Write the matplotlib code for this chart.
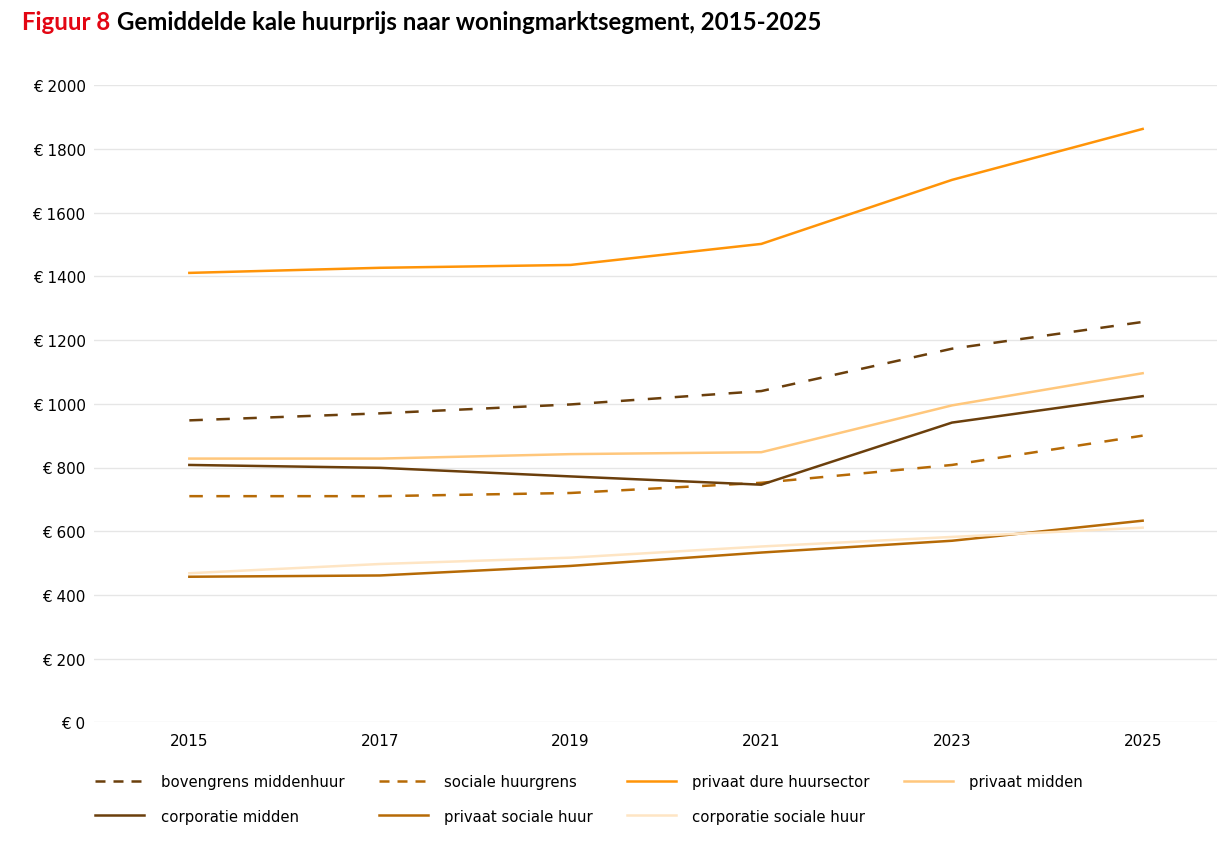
import matplotlib.pyplot as plt
from matplotlib.lines import Line2D

# data
years = [2015, 2017, 2019, 2021, 2023, 2025]

bovengrens_middenhuur = [948, 970, 998, 1040, 1173, 1257]
sociale_huurgrens = [710, 710, 720, 752, 808, 900]
privaat_dure_huursector = [1411, 1427, 1436, 1502, 1703, 1863]
privaat_midden = [828, 828, 842, 848, 995, 1096]
corporatie_midden = [808, 799, 772, 746, 941, 1024]
privaat_sociale_huur = [457, 461, 491, 533, 570, 633]
corporatie_sociale_huur = [468, 497, 517, 552, 582, 611]

y_ticks = [0, 200, 400, 600, 800, 1000, 1200, 1400, 1600, 1800, 2000]

DARK = '#6b3f0c'
MID = '#b66a06'
ORANGE = '#ff9408'
LIGHT = '#ffc77c'
PALE = '#fee5c4'

plt.rcParams['font.family'] = ['DejaVu Sans']

fig = plt.figure(figsize=(12.17, 8.45), dpi=100)
ax = fig.add_axes([94 / 1217, 1 - 723.3 / 845, 1 - 94 / 1217, (723.3 - 86.3) / 845])

lw = 1.8
dash = (5.4, 5.4)
ax.plot(years, bovengrens_middenhuur, color=DARK, lw=lw, dashes=dash)
ax.plot(years, sociale_huurgrens, color=MID, lw=lw, dashes=dash)
ax.plot(years, privaat_dure_huursector, color=ORANGE, lw=lw)
ax.plot(years, privaat_midden, color=LIGHT, lw=lw)
ax.plot(years, corporatie_midden, color=DARK, lw=lw)
ax.plot(years, privaat_sociale_huur, color=MID, lw=lw)
ax.plot(years, corporatie_sociale_huur, color=PALE, lw=lw)

ax.set_ylim(0, 2000)
ax.set_xlim(2014, 2025.78)
ax.set_yticks(y_ticks)
ax.set_yticklabels(['€ %d' % v for v in y_ticks])
ax.set_xticks(years)
ax.grid(axis='y', color='#e6e6e6', lw=1)
ax.set_axisbelow(True)
for s in ax.spines.values():
    s.set_visible(False)
ax.tick_params(axis='both', length=0, labelsize=11, colors='black')
ax.tick_params(axis='y', pad=6)
ax.tick_params(axis='x', pad=8)

# legend proxies (shorter dashes in the key), filled column-wise so it reads row by row
leg_dash = (4, 3.2)
entries = [
    ('bovengrens middenhuur', DARK, leg_dash),
    ('corporatie midden', DARK, None),
    ('sociale huurgrens', MID, leg_dash),
    ('privaat sociale huur', MID, None),
    ('privaat dure huursector', ORANGE, None),
    ('corporatie sociale huur', PALE, None),
    ('privaat midden', LIGHT, None),
]
handles = []
for name, col, d in entries:
    h = Line2D([], [], color=col, lw=lw)
    if d:
        h.set_dashes(d)
    handles.append(h)
fig.legend(handles=handles, labels=[e[0] for e in entries],
           loc='upper left', bbox_to_anchor=(82 / 1217, 1 - 762 / 845),
           ncol=4, frameon=False, fontsize=10.7, handlelength=3.3,
           handletextpad=1.1, columnspacing=2.3, labelspacing=1.3)

# title: red figure number, black text
t1 = fig.text(22 / 1217, 1 - 22 / 845, 'Figuur 8', color='#e30613',
              fontsize=17.3, fontweight='bold', family='Lato', va='center')
ax.annotate('Gemiddelde kale huurprijs naar woningmarktsegment, 2015-2025',
            xy=(1, 0.5), xycoords=t1, xytext=(5, 0), textcoords='offset points',
            fontsize=17.3, fontweight='bold', family='Lato', va='center', color='black',
            annotation_clip=False)

fig.savefig('out.png', dpi=100, facecolor='white')
